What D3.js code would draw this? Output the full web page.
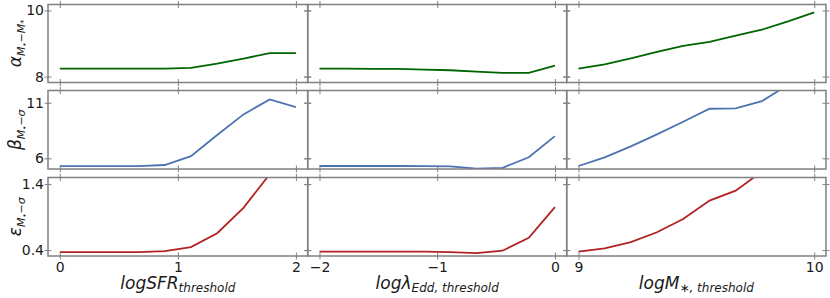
<!DOCTYPE html>
<html>
<head>
<meta charset="utf-8">
<script src="https://cdn.jsdelivr.net/npm/d3@7"></script>
<style>
  body { margin: 0; background: #fff; }
  svg { display: block; }
  .tick text { font-family: "DejaVu Sans", sans-serif; font-size: 14px; fill: #1a1a1a; }
  .tick line { stroke: #808080; stroke-width: 1; }
  .lab { font-family: "DejaVu Sans", sans-serif; fill: #1a1a1a; }
</style>
</head>
<body>
<div id="chart"></div>
<script>
// threshold grids (x of each column)
const xSFR = [0, 0.222, 0.444, 0.667, 0.889, 1.111, 1.333, 1.556, 1.778, 2.0];
const xEdd = [-2.0, -1.778, -1.556, -1.333, -1.111, -0.889, -0.667, -0.444, -0.222, 0];
const xMass = [9.0, 9.111, 9.222, 9.333, 9.444, 9.556, 9.667, 9.778, 9.889, 10.0];

// alpha (top row)
const alphaSFR = [8.24, 8.24, 8.24, 8.24, 8.24, 8.26, 8.39, 8.54, 8.71, 8.71];
const alphaEdd = [8.24, 8.24, 8.235, 8.23, 8.21, 8.19, 8.15, 8.11, 8.11, 8.33];
const alphaMass = [8.24, 8.37, 8.55, 8.75, 8.93, 9.05, 9.24, 9.42, 9.67, 9.94];

// beta (middle row)
const betaSFR = [5.29, 5.29, 5.29, 5.29, 5.4, 6.2, 8.1, 9.95, 11.3, 10.6];
const betaEdd = [5.31, 5.31, 5.31, 5.31, 5.3, 5.27, 5.07, 5.15, 6.1, 8.0];
const betaMass = [5.31, 6.09, 7.08, 8.15, 9.29, 10.46, 10.49, 11.15, 12.6, 13.6];

// epsilon (bottom row)
const epsSFR = [0.37, 0.37, 0.37, 0.37, 0.385, 0.445, 0.656, 1.04, 1.55, 2.0];
const epsEdd = [0.375, 0.375, 0.375, 0.375, 0.375, 0.37, 0.355, 0.39, 0.585, 1.05];
const epsMass = [0.375, 0.425, 0.52, 0.67, 0.87, 1.15, 1.30, 1.59, 1.85, 2.1];

// tick labels
const xTicks = [[0, 1, 2], [-2, -1, 0], [9, 10]];
const yTicks = [[8, 10], [6, 11], [0.4, 1.4]];

const width = 830, height = 298;
const colEdges = [[48, 307.7], [307.7, 566.7], [566.7, 826]];
const rowEdges = [[4.5, 82.5], [90.5, 169], [177.5, 256]];
const xDomains = [[-0.1, 2.1], [-2.1, 0.1], [8.95, 10.05]];
const yDomains = [[7.82, 10.18], [5.04, 12.1], [0.31, 1.5]];
const colors = ["#006400", "#4c72b0", "#b22222"];

const xs = [xSFR, xEdd, xMass];
const series = [
  [alphaSFR, alphaEdd, alphaMass],
  [betaSFR, betaEdd, betaMass],
  [epsSFR, epsEdd, epsMass]
];

const svg = d3.select("#chart").append("svg")
  .attr("width", width).attr("height", height);

const fmt = v => String(v).replace("-", "\u2212");

for (let r = 0; r < 3; r++) {
  for (let c = 0; c < 3; c++) {
    const x = d3.scaleLinear().domain(xDomains[c]).range(colEdges[c]);
    const y = d3.scaleLinear().domain(yDomains[r]).range([rowEdges[r][1], rowEdges[r][0]]);
    const id = `clip${r}${c}`;
    svg.append("clipPath").attr("id", id).append("rect")
      .attr("x", colEdges[c][0]).attr("y", rowEdges[r][0])
      .attr("width", colEdges[c][1] - colEdges[c][0])
      .attr("height", rowEdges[r][1] - rowEdges[r][0]);

    const pts = xs[c].map((v, i) => [v, series[r][c][i]]);
    svg.append("path")
      .datum(pts)
      .attr("clip-path", `url(#${id})`)
      .attr("fill", "none")
      .attr("stroke", colors[r])
      .attr("stroke-width", 1.8)
      .attr("d", d3.line().x(d => x(d[0])).y(d => y(d[1])));

    // ticks in and out on all four sides
    const showY = c === 0, showX = r === 2;
    [3.5, -3.5].forEach(s => {
      const out = s > 0;
      svg.append("g").attr("transform", `translate(${colEdges[c][0]},0)`)
        .call(d3.axisLeft(y).tickValues(yTicks[r]).tickSize(s).tickPadding(out ? 0.5 : 0)
          .tickFormat(d => (out && showY) ? fmt(d) : ""))
        .call(g => g.select(".domain").remove());
      svg.append("g").attr("transform", `translate(${colEdges[c][1]},0)`)
        .call(d3.axisRight(y).tickValues(yTicks[r]).tickSize(s).tickFormat(""))
        .call(g => g.select(".domain").remove());
      svg.append("g").attr("transform", `translate(0,${rowEdges[r][1]})`)
        .call(d3.axisBottom(x).tickValues(xTicks[c]).tickSize(s).tickPadding(out ? 2.2 : 0)
          .tickFormat(d => (out && showX) ? fmt(d) : ""))
        .call(g => g.select(".domain").remove());
      svg.append("g").attr("transform", `translate(0,${rowEdges[r][0]})`)
        .call(d3.axisTop(x).tickValues(xTicks[c]).tickSize(s).tickFormat(""))
        .call(g => g.select(".domain").remove());
    });

    svg.append("rect")
      .attr("x", colEdges[c][0]).attr("y", rowEdges[r][0])
      .attr("width", colEdges[c][1] - colEdges[c][0])
      .attr("height", rowEdges[r][1] - rowEdges[r][0])
      .attr("fill", "none").attr("stroke", "#808080").attr("stroke-width", 1.5);
  }
}

// y labels
const yLabels = [
  { main: "α", sub: "M", sub2: "•", rest: "\u2212M", sub3: "*" },
  { main: "β", sub: "M", sub2: "•", rest: "\u2212σ", sub3: "" },
  { main: "ε", sub: "M", sub2: "•", rest: "\u2212σ", sub3: "" }
];
yLabels.forEach((l, r) => {
  const cy = (rowEdges[r][0] + rowEdges[r][1]) / 2;
  const t = svg.append("text").attr("class", "lab")
    .attr("transform", `translate(21,${cy}) rotate(-90)`)
    .attr("text-anchor", "middle").style("font-style", "italic");
  t.append("tspan").attr("font-size", 17).text(l.main);
  t.append("tspan").attr("font-size", 11).attr("dy", 4).text(l.sub);
  t.append("tspan").attr("font-size", 7).attr("dy", 2).text(l.sub2);
  t.append("tspan").attr("font-size", 11).attr("dy", -2).text(l.rest);
  if (l.sub3) t.append("tspan").attr("font-size", 8).attr("dy", 2).text(l.sub3);
});

// x labels
const xLabels = [
  { main: "logSFR", sub: "threshold" },
  { main: "logλ", sub: "Edd, threshold" },
  { main: "logM", sub: "\u2217, threshold" }
];
xLabels.forEach((l, c) => {
  const cx = (colEdges[c][0] + colEdges[c][1]) / 2;
  const t = svg.append("text").attr("class", "lab")
    .attr("x", cx).attr("y", 288.5)
    .attr("text-anchor", "middle").style("font-style", "italic");
  t.append("tspan").attr("font-size", 17).text(l.main);
  t.append("tspan").attr("font-size", 12).attr("dy", 3).text(l.sub);
});
</script>
</body>
</html>
